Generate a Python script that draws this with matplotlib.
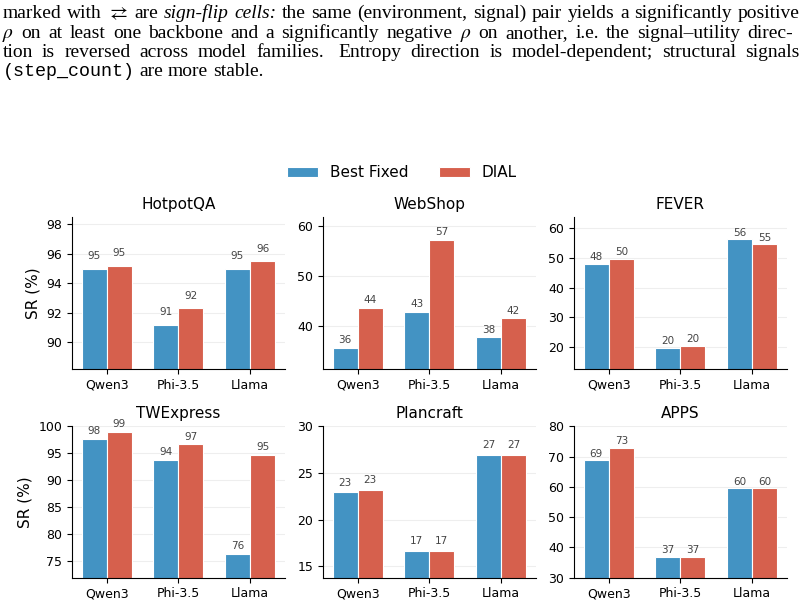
import matplotlib
matplotlib.use('Agg')
import numpy as np
import matplotlib.pyplot as plt

plt.rcParams['mathtext.fontset'] = 'stix'
plt.rcParams['font.family'] = 'DejaVu Sans'

# data
models = ['Qwen3', 'Phi-3.5', 'Llama']
envs = ['HotpotQA', 'WebShop', 'FEVER', 'TWExpress', 'Plancraft', 'APPS']
best_fixed = [
    [95.0, 91.2, 95.0],
    [35.6, 42.9, 37.7],
    [48.0, 19.8, 56.2],
    [97.6, 93.7, 76.4],
    [22.9, 16.7, 26.9],
    [68.9, 36.9, 59.6],
]
dial = [
    [95.2, 92.3, 95.5],
    [43.7, 57.3, 41.6],
    [49.7, 20.4, 54.6],
    [98.9, 96.6, 94.7],
    [23.2, 16.7, 26.9],
    [72.9, 36.9, 59.6],
]

BLUE = '#4393c3'
RED = '#d6604d'
W, H = 804, 607

ylims = [(88.2, 98.5), (31.4, 61.9), (12.7, 63.7), (72.0, 100.0), (13.8, 30.0), (30.0, 80.2)]
yticks = [np.arange(90, 99, 2), [40, 50, 60], np.arange(20, 61, 10),
          np.arange(75, 101, 5), np.arange(15, 31, 5), np.arange(30, 81, 10)]

fig, axes = plt.subplots(2, 3, figsize=(W / 100, H / 100), dpi=100)
fig.subplots_adjust(left=0.0896, right=0.9785, bottom=0.0483, top=0.6425,
                    wspace=0.18, hspace=0.376)

x = np.arange(len(models))
bw = 0.35
for i, ax in enumerate(axes.flat):
    ax.bar(x - bw / 2, best_fixed[i], bw, color=BLUE, edgecolor='white',
           linewidth=0.8, label='Best Fixed', zorder=2)
    ax.bar(x + bw / 2, dial[i], bw, color=RED, edgecolor='white',
           linewidth=0.8, label='DIAL', zorder=2)
    for xs, vals in ((x - bw / 2, best_fixed[i]), (x + bw / 2, dial[i])):
        for xi, v in zip(xs, vals):
            ax.text(xi, v + 0.5, f'{v:.0f}', ha='center', va='bottom',
                    fontsize=7.5, color='#444444')
    ax.set_title(envs[i], fontsize=11)
    ax.set_xticks(x)
    ax.set_xticklabels(models)
    ax.set_ylim(ylims[i])
    ax.set_yticks(yticks[i])
    ax.tick_params(labelsize=9)
    ax.grid(axis='y', color='#eeeeee', linewidth=0.8)
    ax.set_axisbelow(True)
    ax.spines[['top', 'right']].set_visible(False)
    if i % 3 == 0:
        ax.set_ylabel('SR (%)', fontsize=11)

handles, labels = axes[0, 0].get_legend_handles_labels()
fig.legend(handles, labels, loc='center', bbox_to_anchor=(0.5, 1 - 172.7 / H),
           ncol=2, frameon=False, fontsize=11)

# caption text above the figure (justified by hand)
FS = 14.0
STYLES = {
    'rm': dict(family='Liberation Serif', size=FS),
    'it': dict(family='Liberation Serif', style='italic', size=FS),
    'tt': dict(family='Liberation Mono', size=13.2),
}


def words(s, style='rm'):
    return [(w, style) for w in s.split()]


caption = [
    words('marked with') + [(r'$\rightleftarrows$', 'rm')] + words('are')
    + words('sign-flip cells:', 'it')
    + words('the same (environment, signal) pair yields a significantly positive'),
    [(r'$\rho$', 'rm')] + words('on at least one backbone and a significantly negative')
    + [(r'$\rho$', 'rm')] + words('on another, i.e. the signal\u2013utility direc-'),
    words('tion is reversed across model families. Entropy direction is '
          'model-dependent; structural signals'),
    [('(step_count)', 'tt')] + words('are more stable.'),
]
baselines = [18.3, 37.6, 56.8, 76.0]
right_edge = [799.5, 793.0, 799.5, None]
x0 = 2.5

renderer = fig.canvas.get_renderer()
for line, yb, x1 in zip(caption, baselines, right_edge):
    texts = [fig.text(0, 1 - yb / H, w, va='baseline', ha='left',
                      color='black', **STYLES[s]) for w, s in line]
    widths = [t.get_window_extent(renderer).width for t in texts]
    weights = [1.6 if line[j][0] == 'families.' else 1.0 for j in range(len(line) - 1)]
    if x1 is None:
        gaps = [0.25 * FS * 100 / 72] * len(weights)
    else:
        unit = (x1 - x0 - sum(widths)) / sum(weights)
        gaps = [unit * wt for wt in weights]
    xpos = x0
    for j, t in enumerate(texts):
        t.set_x(xpos / W)
        xpos += widths[j] + (gaps[j] if j < len(gaps) else 0)

fig.savefig('out.png', dpi=100)
